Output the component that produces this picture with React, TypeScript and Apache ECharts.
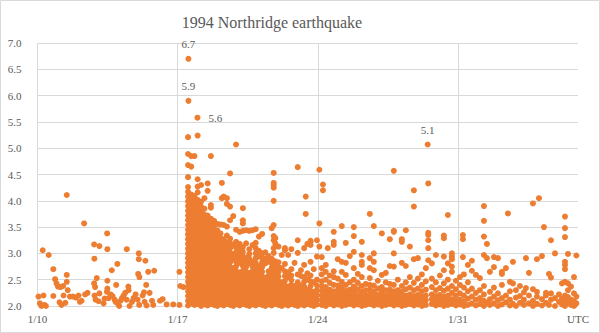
import React, { useEffect, useRef } from "react";
import * as echarts from "echarts";

// x values are days after 1994-01-10 00:00 UTC, y values are magnitudes
const dateTickLabels = ["1/10", "1/17", "1/24", "1/31"];
const endTickLabel = "UTC";
const chartTitle = "1994 Northridge earthquake";

const foreshocks: [number, number][] = [
  [0.05, 2.18], [0.12, 2.05], [0.2, 2.0], [0.26, 3.06], [0.3, 2.2], [0.35, 2.02], [0.42, 2.0],
  [0.56, 2.97], [0.79, 2.7], [0.88, 2.51], [0.79, 2.19], [0.95, 2.43], [1.02, 2.37], [1.1, 2.07],
  [1.15, 2.36], [1.2, 2.02], [1.28, 2.38], [1.3, 2.2], [1.39, 2.06], [1.46, 4.11], [1.46, 2.59],
  [1.46, 2.46], [1.51, 2.3], [1.62, 2.18], [1.78, 2.18], [1.92, 2.16], [2.05, 2.2], [2.12, 2.08],
  [2.2, 2.1], [2.33, 3.57], [2.38, 2.22], [2.5, 2.25], [2.83, 3.17], [2.84, 2.9], [2.83, 2.43],
  [2.88, 2.36], [2.85, 2.2], [2.9, 2.12], [2.96, 2.53], [3.09, 3.14], [3.09, 2.24], [3.05, 2.09],
  [3.3, 2.05], [3.35, 2.14], [3.48, 3.38], [3.49, 3.08], [3.49, 2.48], [3.49, 2.33], [3.47, 2.27],
  [3.55, 2.15], [3.71, 2.68], [3.65, 2.22], [3.75, 2.19], [3.85, 2.12], [3.93, 2.4], [3.9, 2.08],
  [3.99, 2.8], [4.0, 2.05], [4.08, 2.0], [4.15, 2.1], [4.22, 2.15], [4.3, 2.2], [4.38, 2.25],
  [4.46, 3.08], [4.45, 2.12], [4.54, 2.37], [4.55, 2.3], [4.6, 2.0], [4.72, 2.08], [4.8, 2.15],
  [4.9, 2.22], [5.03, 2.61], [5.06, 3.0], [5.06, 2.89], [5.09, 2.55], [5.0, 2.12], [5.08, 2.02],
  [5.25, 2.2], [5.32, 2.26], [5.39, 2.86], [5.43, 2.4], [5.35, 2.08], [5.45, 2.01], [5.53, 2.65],
  [5.6, 2.25], [5.72, 2.1], [5.78, 2.02], [5.83, 2.67], [6.12, 2.1], [6.25, 2.13], [6.45, 2.03],
  [6.78, 2.03], [7.09, 2.65], [7.13, 2.38], [7.29, 2.36], [7.09, 2.02],
];

const labeledQuakes: [number, number][] = [
  [7.54, 6.7], [7.54, 5.9], [7.99, 5.58], [19.49, 5.07],
];

// aftershocks grouped by day: [day, magnitudes]
const aftershockColumns: [number, number[]][] = [
  [7.52, [2.01, 2.1, 2.19, 2.28, 2.37, 2.46, 2.55, 2.64, 2.73, 2.82, 2.91, 3.0, 3.09, 3.18, 3.27, 3.36, 3.45, 3.54, 3.63, 3.72, 3.81, 3.9, 3.99, 4.08, 4.17, 4.26, 4.45, 4.68, 4.89, 5.21]],
  [7.68, [2.05, 2.14, 2.23, 2.32, 2.41, 2.5, 2.59, 2.68, 2.77, 2.86, 2.95, 3.04, 3.13, 3.22, 3.31, 3.4, 3.49, 3.58, 3.67, 3.76, 3.85, 3.94, 4.03, 4.12, 4.65, 4.85]],
  [7.84, [2.02, 2.11, 2.2, 2.29, 2.38, 2.47, 2.56, 2.65, 2.74, 2.83, 2.92, 3.01, 3.1, 3.19, 3.28, 3.37, 3.46, 3.55, 3.64, 3.73, 3.82, 3.91, 4.0, 4.09, 4.85]],
  [8.0, [2.04, 2.13, 2.22, 2.31, 2.4, 2.49, 2.58, 2.67, 2.76, 2.85, 2.94, 3.03, 3.12, 3.21, 3.3, 3.39, 3.48, 3.57, 3.66, 3.75, 3.84, 3.93, 4.02, 4.16, 4.27, 4.41, 5.24]],
  [8.17, [2.0, 2.09, 2.18, 2.27, 2.36, 2.45, 2.54, 2.63, 2.72, 2.81, 2.9, 2.99, 3.08, 3.17, 3.26, 3.35, 3.44, 3.53, 3.62, 3.71, 3.8, 3.89, 3.98, 4.3]],
  [8.34, [2.03, 2.12, 2.21, 2.3, 2.39, 2.48, 2.57, 2.66, 2.75, 2.84, 2.93, 3.02, 3.11, 3.2, 3.29, 3.38, 3.47, 3.56, 3.65, 3.74, 3.85, 4.05]],
  [8.5, [2.01, 2.1, 2.19, 2.28, 2.37, 2.46, 2.55, 2.64, 2.73, 2.82, 2.91, 3.0, 3.09, 3.18, 3.27, 3.36, 3.45, 3.54, 3.63, 3.72, 4.19, 4.33]],
  [8.66, [2.04, 2.13, 2.22, 2.31, 2.4, 2.49, 2.58, 2.67, 2.76, 2.85, 2.94, 3.03, 3.12, 3.21, 3.3, 3.39, 3.48, 3.57, 3.66, 3.87, 3.92, 4.85]],
  [8.82, [2.02, 2.11, 2.2, 2.29, 2.38, 2.47, 2.56, 2.65, 2.74, 2.83, 2.92, 3.01, 3.1, 3.19, 3.28, 3.37, 3.46, 3.55, 3.62]],
  [8.98, [2.0, 2.09, 2.18, 2.27, 2.36, 2.45, 2.54, 2.63, 2.72, 2.81, 2.9, 2.99, 3.08, 3.17, 3.26, 3.35, 3.44, 3.56]],
  [9.14, [2.03, 2.12, 2.21, 2.3, 2.39, 2.48, 2.57, 2.66, 2.75, 2.84, 2.93, 3.02, 3.11, 3.2, 3.29, 3.38, 3.55]],
  [9.21, [4.05, 4.34]],
  [9.3, [2.01, 2.1, 2.19, 2.28, 2.37, 2.46, 2.55, 2.64, 2.73, 2.82, 2.91, 3.0, 3.09, 3.18, 3.27, 3.54, 4.08]],
  [9.46, [2.04, 2.13, 2.22, 2.31, 2.4, 2.49, 2.58, 2.67, 2.76, 2.85, 2.94, 3.03, 3.12, 3.21, 3.34, 3.51, 3.94, 4.05]],
  [9.62, [2.02, 2.11, 2.2, 2.29, 2.38, 2.47, 2.56, 2.65, 2.74, 2.83, 2.92, 3.01, 3.1, 3.19, 3.28, 3.63, 3.89, 4.52]],
  [9.78, [2.0, 2.09, 2.18, 2.27, 2.36, 2.45, 2.54, 2.63, 2.72, 2.9, 2.99, 3.17, 3.71]],
  [9.92, [2.03, 2.12, 2.21, 2.3, 2.39, 2.48, 2.57, 2.66, 2.75, 2.84, 2.93, 3.02, 3.11, 3.22, 3.45, 5.07]],
  [10.1, [2.01, 2.1, 2.19, 2.28, 2.37, 2.46, 2.55, 2.64, 2.82, 2.91, 3.0, 3.09, 3.18, 3.41]],
  [10.26, [2.04, 2.13, 2.22, 2.31, 2.4, 2.49, 2.58, 2.67, 2.76, 2.85, 2.94, 3.03, 3.12, 3.43, 3.57, 3.63, 3.86]],
  [10.42, [2.02, 2.11, 2.2, 2.29, 2.38, 2.47, 2.56, 2.65, 2.74, 2.83, 2.92, 3.19, 3.44]],
  [10.58, [2.0, 2.09, 2.18, 2.27, 2.36, 2.45, 2.54, 2.63, 2.81, 2.9, 2.99, 3.08, 3.43]],
  [10.74, [2.03, 2.12, 2.21, 2.3, 2.39, 2.48, 2.57, 2.66, 2.75, 2.84, 3.16, 3.44]],
  [10.9, [2.01, 2.1, 2.19, 2.28, 2.37, 2.46, 2.55, 2.64, 2.73, 2.82, 2.91, 3.0, 3.1, 3.2, 3.46]],
  [11.06, [2.04, 2.13, 2.22, 2.31, 2.4, 2.49, 2.58, 2.67, 2.76, 2.94, 3.05, 3.32]],
  [11.22, [2.02, 2.11, 2.2, 2.29, 2.38, 2.47, 2.56, 2.65, 2.74, 2.83, 2.92, 3.0, 3.37]],
  [11.38, [2.0, 2.09, 2.18, 2.27, 2.36, 2.45, 2.54, 2.81, 2.9, 3.02]],
  [11.54, [2.03, 2.12, 2.21, 2.3, 2.39, 2.48, 2.57, 2.66, 2.84, 2.95]],
  [11.7, [2.01, 2.1, 2.19, 2.28, 2.37, 2.46, 2.55, 2.64, 2.73, 2.82, 2.9, 3.48]],
  [11.8, [3.01, 3.1, 3.25, 3.33, 3.54, 4.0, 4.25, 4.3, 4.34, 4.53]],
  [11.88, [2.04, 2.13, 2.22, 2.31, 2.4, 2.49, 2.58, 2.67, 2.76, 2.85, 3.19, 3.29]],
  [12.04, [2.02, 2.11, 2.2, 2.29, 2.38, 2.47, 2.56, 2.65, 2.74, 2.83, 3.13]],
  [12.2, [2.0, 2.09, 2.18, 2.27, 2.36, 2.45, 2.72, 2.97]],
  [12.36, [2.03, 2.12, 2.21, 2.3, 2.39, 2.48, 2.57, 2.66, 2.8, 3.06, 3.1]],
  [12.52, [2.01, 2.1, 2.19, 2.28, 2.37, 2.55, 2.64, 2.97]],
  [12.68, [2.04, 2.13, 2.22, 2.31, 2.4, 2.49, 2.58, 2.7, 3.08]],
  [12.84, [2.02, 2.11, 2.2, 2.29, 2.38, 2.82]],
  [13.0, [2.0, 2.09, 2.18, 2.27, 2.36, 2.45, 2.6, 3.01, 3.25, 4.64]],
  [13.16, [2.03, 2.12, 2.21, 2.3, 2.39, 2.57, 2.68]],
  [13.32, [2.01, 2.1, 2.19, 2.28, 2.37, 2.46, 2.55, 2.78, 3.1]],
  [13.4, [3.75, 4.08]],
  [13.48, [2.04, 2.13, 2.22, 2.31, 2.5, 2.62, 3.18]],
  [13.64, [2.02, 2.11, 2.2, 2.29, 2.38, 2.47, 2.58, 2.84, 3.16, 3.22, 3.24]],
  [13.8, [2.0, 2.09, 2.18, 2.27, 2.45, 2.7]],
  [13.96, [2.03, 2.12, 2.21, 2.3, 2.39, 2.5, 2.94, 3.25]],
  [14.08, [3.13, 3.57, 4.59]],
  [14.26, [4.2, 4.31]],
  [14.2, [2.02, 2.11, 2.2, 2.29, 2.38, 2.47, 2.6, 2.72, 2.93]],
  [14.4, [2.0, 2.09, 2.18, 2.27, 2.36, 2.5, 2.65, 2.78]],
  [14.5, [3.1]],
  [14.6, [2.04, 2.13, 2.22, 2.31, 2.44, 2.58]],
  [14.8, [2.01, 2.1, 2.19, 2.28, 2.4, 2.55, 2.66, 3.16, 3.22, 3.41]],
  [15.0, [2.03, 2.12, 2.21, 2.3, 2.39, 2.52, 2.89]],
  [15.2, [2.0, 2.09, 2.18, 2.27, 2.36, 2.46, 2.65, 2.84, 3.52]],
  [15.4, [2.02, 2.11, 2.2, 2.29, 2.4, 2.59, 2.82, 3.2]],
  [15.6, [2.04, 2.13, 2.22, 2.31, 2.45, 2.95]],
  [15.8, [2.01, 2.1, 2.19, 2.28, 2.37, 2.5, 2.72, 3.03, 3.33, 3.5]],
  [16.0, [2.03, 2.12, 2.21, 2.32, 2.44, 2.61]],
  [16.2, [2.0, 2.09, 2.18, 2.27, 2.38, 2.55, 2.78, 2.84, 2.97, 3.22]],
  [16.4, [2.02, 2.11, 2.2, 2.3, 2.42]],
  [16.6, [2.04, 2.13, 2.22, 2.31, 2.4, 2.53, 2.72, 2.91, 3.75]],
  [16.8, [2.01, 2.1, 2.19, 2.28, 2.39, 2.68, 2.84, 3.0, 3.52]],
  [17.0, [2.03, 2.12, 2.21, 2.33, 2.48]],
  [17.2, [2.0, 2.09, 2.18, 2.27, 2.36, 2.59, 3.38]],
  [17.4, [2.02, 2.11, 2.2, 2.3, 2.45, 2.63]],
  [17.6, [2.04, 2.13, 2.22, 2.31, 2.42, 2.76, 3.27]],
  [17.8, [2.01, 2.1, 2.19, 2.28, 2.4, 2.75, 3.0, 3.41, 3.43, 4.57]],
  [18.0, [2.03, 2.12, 2.21, 2.3, 2.5]],
  [18.2, [2.0, 2.09, 2.18, 2.27, 2.38, 2.82, 3.22, 3.27]],
  [18.4, [2.02, 2.11, 2.2, 2.32, 2.45, 2.76, 3.44]],
  [18.6, [2.04, 2.13, 2.22, 2.35, 2.55, 3.13]],
  [18.8, [2.01, 2.1, 2.19, 2.3, 2.44, 2.89, 3.89, 4.2]],
  [19.0, [2.03, 2.12, 2.21, 2.33, 2.52, 2.91]],
  [19.2, [2.0, 2.09, 2.18, 2.28, 2.4, 2.6]],
  [19.4, [2.02, 2.11, 2.2, 2.31, 2.47, 2.72]],
  [19.52, [2.87, 3.1, 3.25, 3.35, 3.39, 4.33]],
  [19.7, [2.04, 2.13, 2.22, 2.36, 2.52, 2.81]],
  [19.9, [2.01, 2.1, 2.19, 2.3, 2.45, 2.97]],
  [20.1, [2.03, 2.12, 2.21, 2.34, 2.58]],
  [20.3, [2.0, 2.09, 2.18, 2.29, 2.43, 2.68, 2.94, 3.29, 3.34]],
  [20.5, [2.02, 2.11, 2.2, 2.33, 2.5, 2.81, 3.73]],
  [20.7, [2.04, 2.13, 2.25, 2.38, 2.65, 2.75, 2.89, 2.94, 3.0]],
  [20.9, [2.01, 2.1, 2.2, 2.32, 2.48]],
  [21.1, [2.03, 2.12, 2.24, 2.4, 2.55]],
  [21.25, [2.93, 3.27, 3.35]],
  [21.3, [2.0, 2.09, 2.2, 2.35, 2.6]],
  [21.5, [2.02, 2.14, 2.28, 2.45, 2.78]],
  [21.7, [2.05, 2.18, 2.33, 2.67, 2.86]],
  [21.9, [2.01, 2.12, 2.25, 2.59]],
  [22.1, [2.04, 2.15, 2.3, 2.53]],
  [22.3, [2.0, 2.1, 2.22, 2.38, 2.97, 3.32, 3.62, 3.9]],
  [22.45, [2.06, 2.91, 3.18]],
  [22.6, [2.02, 2.13, 2.27, 2.65]],
  [22.8, [2.05, 2.18, 2.35, 2.74, 2.93]],
  [23.0, [2.0, 2.11, 2.24, 2.91]],
  [23.2, [2.03, 2.15, 2.4, 2.61, 2.65]],
  [23.4, [2.07, 2.2, 2.72]],
  [23.5, [3.76]],
  [23.6, [2.01, 2.12, 2.28, 2.46]],
  [23.75, [2.04, 2.43, 2.84]],
  [23.9, [2.0, 2.16, 2.3]],
  [24.1, [2.06, 2.19, 2.38]],
  [24.3, [2.02, 2.12, 2.26]],
  [24.4, [2.34, 2.91]],
  [24.55, [2.05, 2.2, 2.63]],
  [24.75, [2.0, 2.1, 2.32, 3.95]],
  [24.95, [2.04, 2.18, 2.27, 2.89]],
  [25.05, [4.05]],
  [25.2, [2.01, 2.13, 2.95]],
  [25.3, [3.5]],
  [25.4, [2.06, 2.2, 2.25]],
  [25.55, [2.02, 2.61]],
  [25.65, [2.12, 2.24, 2.54, 3.25]],
  [25.85, [2.0, 2.15, 3.0]],
  [26.05, [2.08, 2.22]],
  [26.2, [2.03, 2.14, 2.43]],
  [26.35, [2.0, 2.1, 2.2, 2.46, 2.7, 2.78, 2.84, 3.31, 3.48, 3.7]],
  [26.5, [2.06, 2.17, 2.3, 2.43, 2.99]],
  [26.65, [2.02, 2.12, 2.37]],
  [26.8, [2.0, 2.09, 2.24, 2.55]],
  [26.92, [2.05, 2.18, 2.96]],
];

const ORANGE = "#ED7D31";
const TEXT = "#595959";
const GRID = "#d9d9d9";
const FONT = "'Liberation Serif', 'Times New Roman', serif";

export default function App() {
  const ref = useRef<HTMLDivElement>(null);
  useEffect(() => {
    if (!ref.current) return;
    const chart = echarts.init(ref.current, null, { renderer: "svg" });
    const aftershocks = aftershockColumns.flatMap(([d, ms]) => ms.map((m) => [d, m]));
    chart.setOption({
      animation: false,
      backgroundColor: "#ffffff",
      grid: { left: 37.5, right: 22, top: 43, bottom: 27 },
      graphic: [
        {
          type: "rect",
          shape: { x: 0.5, y: 0.5, width: 599, height: 332 },
          style: { fill: "none", stroke: GRID, lineWidth: 1 },
          silent: true,
        },
        {
          type: "text",
          x: 272,
          y: 22,
          style: {
            text: chartTitle,
            fill: TEXT,
            fontSize: 16,
            fontFamily: FONT,
            align: "center",
            verticalAlign: "middle",
          },
        },
      ],
      xAxis: {
        type: "value",
        min: 0,
        max: 27,
        interval: 7,
        axisLine: { show: false },
        axisTick: { show: false },
        splitLine: { show: true, showMaxLine: false, lineStyle: { color: GRID, width: 1 } },
        axisLabel: {
          color: TEXT,
          fontFamily: FONT,
          fontSize: 11,
          margin: 7,
          showMaxLabel: true,
          formatter: (v: number) => (v === 27 ? endTickLabel : dateTickLabels[Math.round(v / 7)] ?? ""),
        },
      },
      yAxis: {
        type: "value",
        min: 2,
        max: 7,
        interval: 0.5,
        axisLine: { show: false },
        axisTick: { show: false },
        splitLine: { show: true, lineStyle: { color: GRID, width: 1 } },
        axisLabel: {
          color: TEXT,
          fontFamily: FONT,
          fontSize: 11,
          margin: 16,
          formatter: (v: number) => v.toFixed(1),
        },
      },
      series: [
        {
          type: "scatter",
          symbolSize: 6,
          progressive: 0,
          large: false,
          itemStyle: { color: ORANGE, opacity: 1 },
          data: [...foreshocks, ...aftershocks],
        },
        {
          type: "scatter",
          symbolSize: 6,
          itemStyle: { color: ORANGE, opacity: 1 },
          label: {
            show: true,
            color: TEXT,
            fontFamily: FONT,
            fontSize: 11,
            formatter: (p: any) => p.value[1].toFixed(1),
          },
          data: labeledQuakes.map((p, i) => ({
            value: p,
            label: i === 2 ? { position: "right", distance: 8 } : { position: "top", distance: 6 },
          })),
        },
      ],
    });
    return () => chart.dispose();
  }, []);
  return <div ref={ref} style={{ position: "absolute", left: 0, top: 0, width: 600, height: 333 }} />;
}
